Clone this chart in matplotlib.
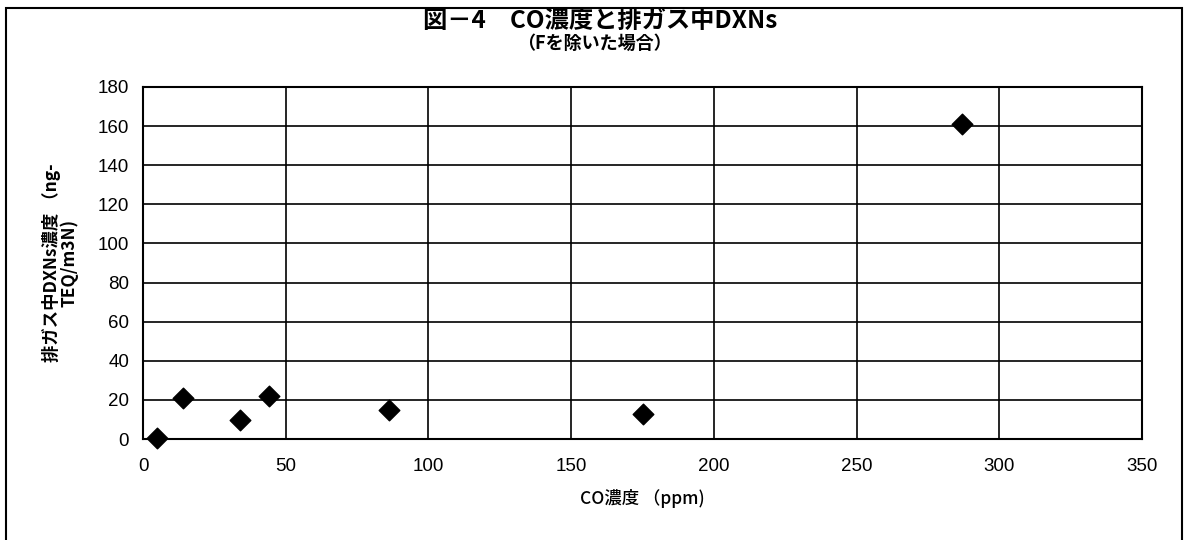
import matplotlib
matplotlib.use("Agg")
import matplotlib.pyplot as plt
from matplotlib.patches import Rectangle

# data
co_ppm = [5, 14, 34, 44, 86, 175, 287]
dxn = [0.3, 21, 9.5, 22, 15, 13, 161]

x_ticks = [0, 50, 100, 150, 200, 250, 300, 350]
y_ticks = [0, 20, 40, 60, 80, 100, 120, 140, 160, 180]

title = "図－4　CO濃度と排ガス中DXNs"
subtitle = "（Fを除いた場合）"
x_label = "CO濃度 （ppm)"
y_label = "排ガス中DXNs濃度 （ng-\nTEQ/m3N)"

jp = ["Noto Sans CJK JP", "DejaVu Sans"]
num = ["Liberation Sans", "DejaVu Sans"]

fig = plt.figure(figsize=(11.88, 5.4), dpi=100)
ax = fig.add_axes([0.1204, 0.187, 0.8409, 0.6519])

ax.scatter(co_ppm, dxn, marker="D", s=110, color="black", zorder=3, clip_on=False)

ax.set_xlim(0, 350)
ax.set_ylim(0, 180)
ax.set_xticks(x_ticks)
ax.set_yticks(y_ticks)
ax.grid(True, color="black", linewidth=1.2)
ax.set_axisbelow(True)
ax.tick_params(length=0, labelsize=13.5)
ax.tick_params(axis="x", pad=14)
ax.tick_params(axis="y", pad=10)
for lab in ax.get_xticklabels() + ax.get_yticklabels():
    lab.set_family(num)
for sp in ax.spines.values():
    sp.set_linewidth(1.5)
    sp.set_color("black")

ax.set_xlabel(x_label, family=jp, fontsize=12.5, fontweight="medium", labelpad=10)
ax.set_ylabel(y_label, family=jp, fontsize=12.5, fontweight="bold", labelpad=14,
              linespacing=0.95)

fig.text(0.505, 0.962, title, family=jp, fontsize=17.5, fontweight="bold",
         ha="center", va="center")
fig.text(0.5, 0.92, subtitle, family=jp, fontsize=13, fontweight="bold",
         ha="center", va="center")

# outer chart frame
fig.patches.append(Rectangle((0.005, -0.05), 0.99, 1.035, transform=fig.transFigure,
                             fill=False, edgecolor="black", linewidth=1.5))

fig.savefig("out.png", dpi=100, facecolor="white")
